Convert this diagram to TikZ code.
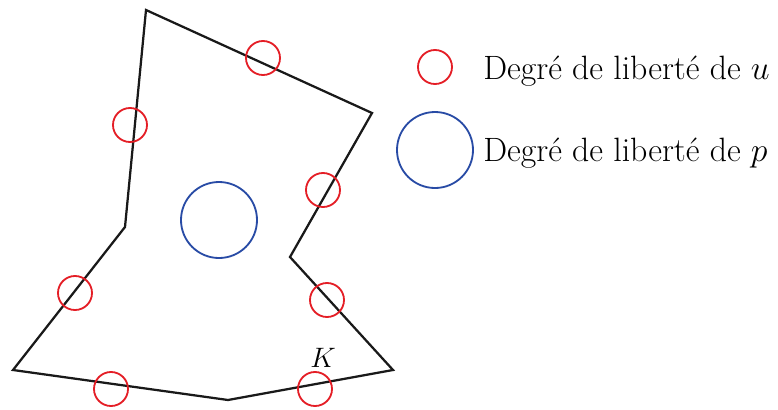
\RequirePackage{fix-cm}
\documentclass[tikz,border=0pt]{standalone}
\usepackage{tikz}
\usepackage{xcolor}
\usetikzlibrary{positioning}
\definecolor{ured} {RGB}{228, 30, 38}
\definecolor{pblue}{RGB}{ 40, 75,165}
\tikzset{
  % Red dof of u
  UD/.style={circle,draw=ured,line width=1.3pt,minimum size=34*0.025cm,
             inner sep=0pt},
  % Blue dof of p
  PD/.style={circle,draw=pblue,line width=1.3pt,minimum size=76*0.025cm,
             inner sep=0pt},
  % Legend text
  LG/.style={anchor=base west,inner sep=0pt,
             font=\fontsize{24}{28}\selectfont},
  Edge/.style={line width=1.6pt,line join=miter,color=black!90},
}

\begin{document}
\begin{tikzpicture}[x=0.025cm,y=-0.025cm]
\useasboundingbox (0,0) rectangle (778,409);
% ── Element K ────────────────────────────
\coordinate (v1) at (146,10);
\coordinate (v2) at (372,113);
\coordinate (v3) at (290,257);
\coordinate (v4) at (393,370);
\coordinate (v5) at (228,400);
\coordinate (v6) at (13,370);
\coordinate (v7) at (125,227);
\draw[Edge] (v1) -- (v2) -- (v3) -- (v4) -- (v5) -- (v6) -- (v7) -- cycle;
\node[font=\fontsize{20}{24}\selectfont,inner sep=0pt] at (323,358) (lblK) {$K$};
% ── Velocity dofs ────────────────────────
\node[UD] at (263,58)  (u1) {};
\node[UD] at (130,125) (u2) {};
\node[UD] at (323,190) (u3) {};
\node[UD] at (75,293)  (u4) {};
\node[UD] at (327,300) (u5) {};
\node[UD] at (111,389) (u6) {};
\node[UD] at (315,389) (u7) {};
% ── Pressure dof ─────────────────────────
\node[PD] at (219,220) (p1) {};
% ── Legend ───────────────────────────────
\node[UD] at (435,67)  (legu) {};
\node[PD] at (435,150) (legp) {};
\node[LG] at (483,79)  (txtu) {Degré de liberté de $u$};
\node[LG] at (483,161) (txtp) {Degré de liberté de $p$};
\end{tikzpicture}
\end{document}
